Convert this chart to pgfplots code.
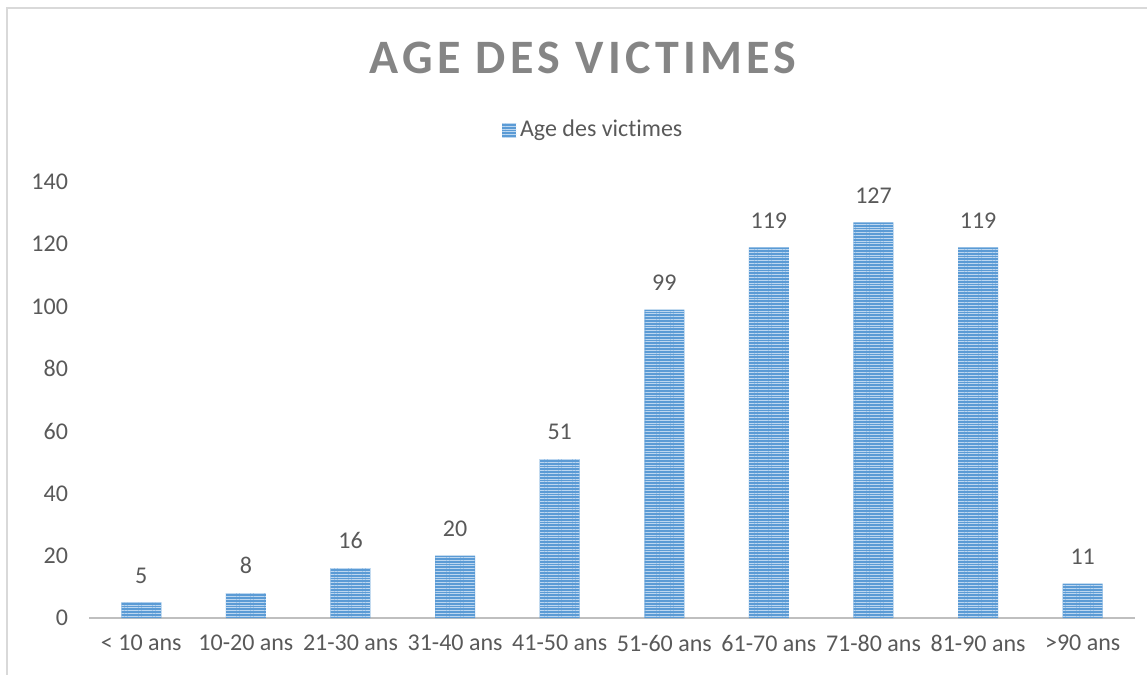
\documentclass[border=0pt]{standalone}
\usepackage{fontspec}
\setmainfont[Ligatures=NoCommon]{Carlito}
\usepackage{pgfplots}
\pgfplotsset{compat=1.18}
\usetikzlibrary{patterns.meta}

\definecolor{barblue}{HTML}{5B9BD5}
\definecolor{stripe}{HTML}{BDD7F0}
\definecolor{txt}{HTML}{595959}
\definecolor{titlegray}{HTML}{858585}
\definecolor{axisgray}{HTML}{BFBFBF}
\definecolor{framegray}{HTML}{D9D9D9}

\begin{document}
\begin{tikzpicture}
\path[use as bounding box] (-44.5pt,-28.5pt) rectangle (529pt,309pt);
\draw[framegray, line width=1pt] (-41pt,-28.5pt) -- (-41pt,305pt) -- (529pt,305pt);
\begin{axis}[
    at={(0,0)}, anchor=south west,
    scale only axis,
    width=523pt, height=218pt,
    ybar, bar width=20pt,
    xmin=-0.5, xmax=9.5,
    ymin=0, ymax=140,
    ytick={0,20,...,140},
    xtick=data,
    xticklabels={< 10 ans, 10-20 ans, 21-30 ans, 31-40 ans, 41-50 ans, 51-60 ans, 61-70 ans, 71-80 ans, 81-90 ans, >90 ans},
    axis lines*=left,
    y axis line style={draw=none},
    x axis line style={axisgray, line width=0.8pt, -},
    major tick length=0pt,
    tick style={draw=none},
    ticklabel style={font=\fontsize{12}{14}\selectfont, text=txt},
    /pgf/number format/assume math mode=true,
    yticklabel style={xshift=-7pt},
    xticklabel style={yshift=-5pt},
    nodes near coords,
    nodes near coords style={font=\fontsize{12}{14}\selectfont, text=txt, yshift=6pt},
    clip=false,
    legend style={at={(0.483,1.119)}, anchor=center, draw=none, fill=none,
        font=\fontsize{12}{14}\selectfont, text=txt},
    legend image code/.code={%
        \fill[barblue, postaction={pattern={Lines[angle=0,distance=1.4pt,line width=0.45pt]}, pattern color=stripe}]
            (0pt,-3.5pt) rectangle (7pt,3.5pt);},
]
\addplot[draw=none, fill=barblue,
    postaction={pattern={Lines[angle=0,distance=1.4pt,line width=0.45pt]}, pattern color=stripe}]
coordinates {
    (0,5) (1,8) (2,16) (3,20) (4,51) (5,99) (6,119) (7,127) (8,119) (9,11)
};
\addlegendentry{Age des victimes}
\end{axis}
\node[font={\fontsize{24}{28}\selectfont\bfseries\addfontfeature{LetterSpace=9}}, text=titlegray] at (247pt,280pt) {AGE DES VICTIMES};
\end{tikzpicture}
\end{document}
